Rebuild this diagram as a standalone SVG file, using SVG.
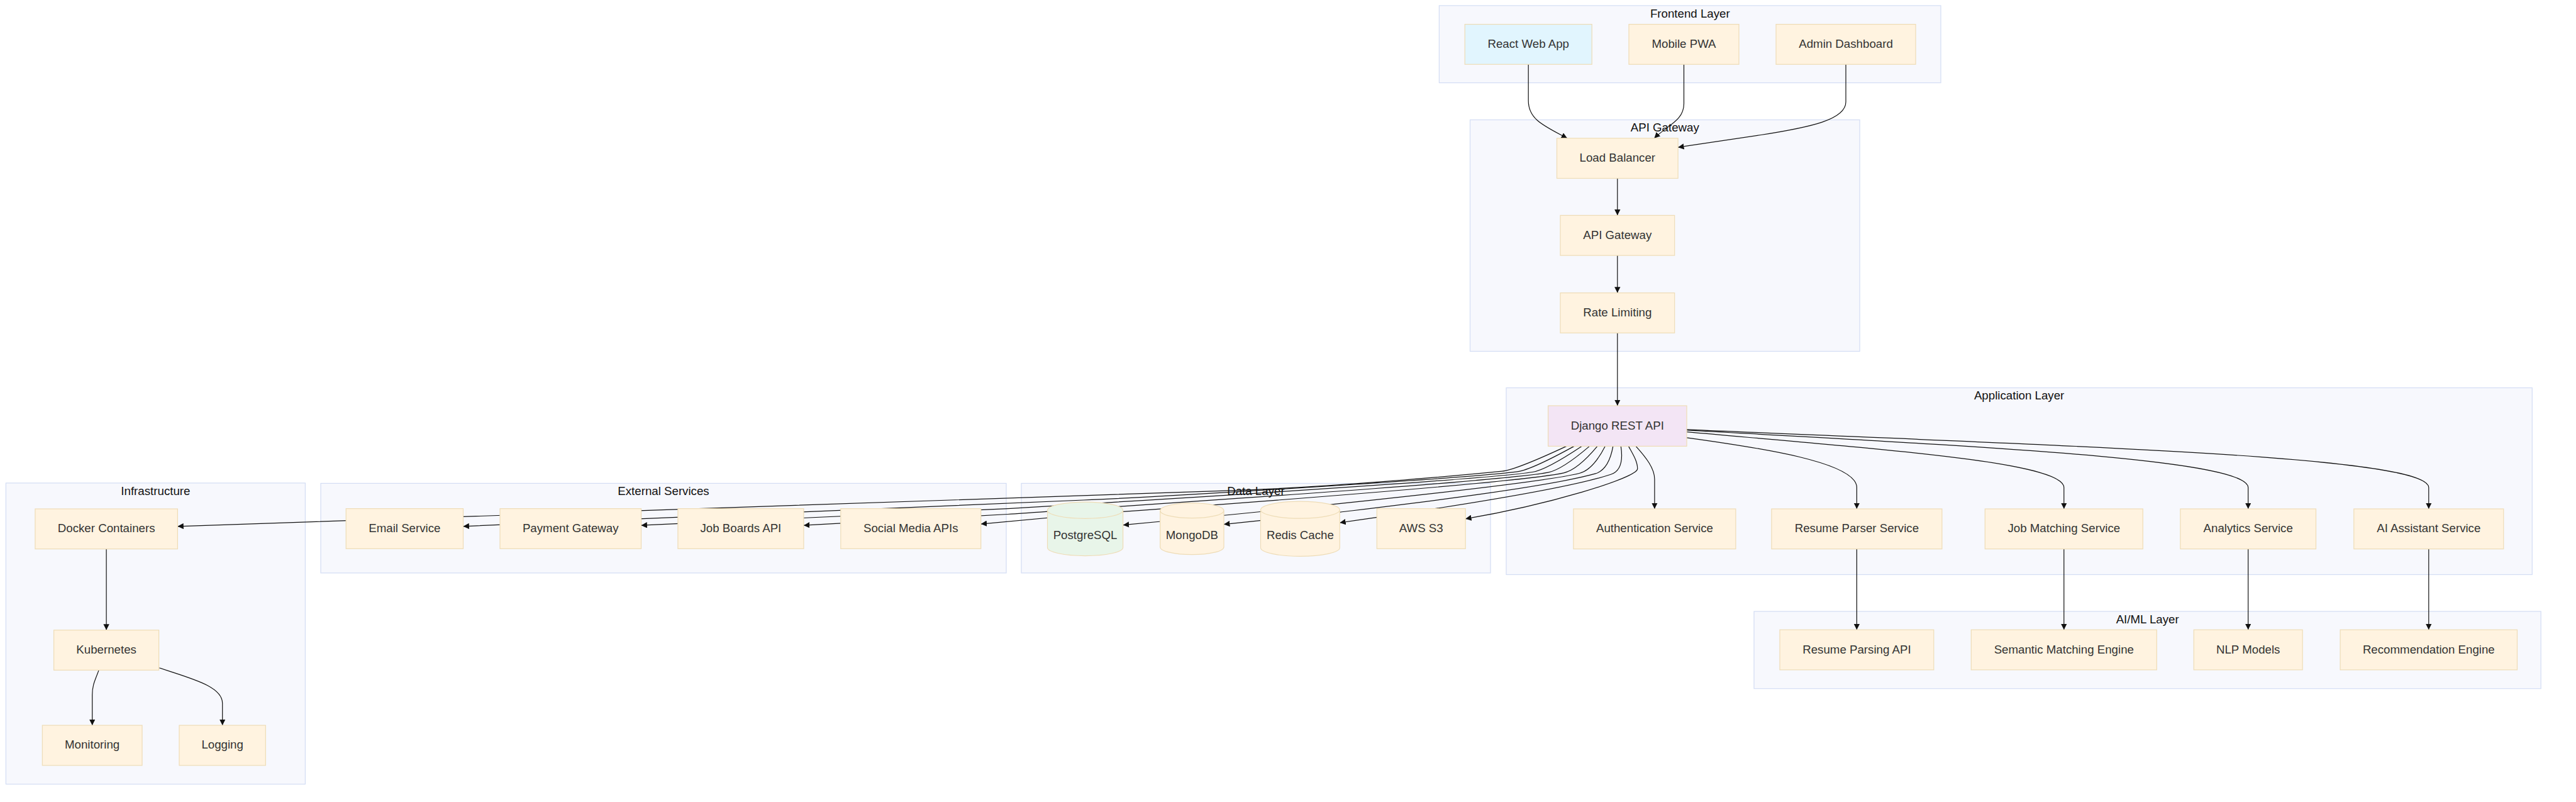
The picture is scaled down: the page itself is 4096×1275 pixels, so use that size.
<svg xmlns="http://www.w3.org/2000/svg" width="4096" height="1275" viewBox="0 0 4096 1275">
<defs>
<marker id="arrow" viewBox="0 0 10 10" refX="10" refY="5" markerWidth="9.4" markerHeight="9.4" markerUnits="userSpaceOnUse" orient="auto"><path d="M0,0 L10,5 L0,10 z" fill="#111"/></marker>
<style>
.cluster rect{fill:#f7f8fd;stroke:#d3ddf4;stroke-width:1.2}
.ctitle{font-family:"Liberation Sans",Arial,sans-serif;font-size:18.7px;fill:#111;text-anchor:middle}
.node rect,.node path{fill:#fff3e0;stroke:#eedcb6;stroke-width:1.2}
.node text{font-family:"Liberation Sans",Arial,sans-serif;font-size:18.7px;fill:#333;text-anchor:middle}
.node.blue rect{fill:#e1f5fe}
.node.purple rect{fill:#f3e5f5}
.node.green path{fill:#e8f5e9}
.edges path{fill:none;stroke:#111;stroke-width:1.2;marker-end:url(#arrow)}
</style>
</defs>
<rect x="0" y="0" width="4096" height="1275" fill="#ffffff"/>

<g id="clusters">
  <g id="cluster-frontend" class="cluster"><rect x="2288.4" y="8.9" width="797.6" height="122.7"/><text class="ctitle" x="2687.3" y="27.7">Frontend Layer</text></g>
  <g id="cluster-gateway" class="cluster"><rect x="2337.5" y="190.5" width="619.6" height="368"/><text class="ctitle" x="2647.3" y="209.2">API Gateway</text></g>
  <g id="cluster-app" class="cluster"><rect x="2395" y="616.5" width="1631.3" height="297"/><text class="ctitle" x="3210.6" y="635.3">Application Layer</text></g>
  <g id="cluster-aiml" class="cluster"><rect x="2789" y="972" width="1251.2" height="122.7"/><text class="ctitle" x="3414.7" y="990.8">AI/ML Layer</text></g>
  <g id="cluster-infra" class="cluster"><rect x="9.4" y="767.9" width="476" height="478.7"/><text class="ctitle" x="247.4" y="786.7">Infrastructure</text></g>
  <g id="cluster-external" class="cluster"><rect x="510" y="768.4" width="1090" height="142.5"/><text class="ctitle" x="1055" y="787.2">External Services</text></g>
  <g id="cluster-data" class="cluster"><rect x="1624" y="768.4" width="746" height="142.5"/><text class="ctitle" x="1996.9" y="787.2">Data Layer</text></g>
</g>

<g id="edges" class="edges">
  <path d="M2430.2,102.3 L2430.2,160 C2430.2,190 2455,200 2492,219.8"/>
  <path d="M2677.5,102.3 L2677.5,165 C2677.5,192 2650,200 2630.4,219.8"/>
  <path d="M2935,102.3 L2935,162 C2935,190 2880,202 2800,214.5 L2668.1,234.2"/>
  <path d="M2571.8,283.5 L2571.8,342.4"/>
  <path d="M2571.8,406.1 L2571.8,465.6"/>
  <path d="M2571.8,529.3 L2571.8,645"/>
  <path d="M2490.8,709.4 Q2410.3,747 2388.3,749.2 C2308.3,757.2 2102,774.9 1972,779.3 L282.4,836.8"/>
  <path d="M2503,709.4 Q2434.6,747 2412.6,749.9 C2332.6,760.3 1872.6,788.5 1722.6,795 L736.5,836.8"/>
  <path d="M2515,709.4 Q2458.6,747 2436.6,750.5 C2356.6,763.3 1802.5,796.6 1602.5,808.6 L1019.5,835.2"/>
  <path d="M2527.4,709.4 Q2483.4,747 2461.4,751.2 C2381.4,766.4 1782.5,804.5 1602.5,817.5 L1277.9,835.2"/>
  <path d="M2539.9,709.4 Q2508.4,747 2486.4,751.8 C2406.4,769.4 1872.6,807 1722.6,818 L1559.7,833.1"/>
  <path d="M2552.2,709.4 Q2533.1,747 2511.1,752.5 C2431.1,772.5 1935.8,820.7 1785.8,834.7"/>
  <path d="M2564.8,709.4 Q2558.1,747 2536.1,753.2 C2456.1,775.6 2220,803.3 2130,814.3 L1946,833.6"/>
  <path d="M2577.3,709.4 Q2583.2,747 2561.2,754.3 C2481.2,780.7 2250.3,814 2130.3,831"/>
  <path d="M2589.5,709.4 C2595,720 2604,733 2603.7,745.4 C2603,760 2460,802.8 2330.2,824.8"/>
  <path d="M2601.1,709.4 C2618,728 2630.9,745 2630.9,762 L2630.9,809"/>
  <path d="M2682,695.8 C2800,712 2952.4,735 2952.4,775 L2952.4,809"/>
  <path d="M2682,686.7 C3000,715 3281.8,735 3281.8,775 L3281.8,809"/>
  <path d="M2682,683.8 C3150,710 3574.7,730 3574.7,775 L3574.7,809"/>
  <path d="M2682,682.8 C3300,710 3861.8,725 3861.8,775 L3861.8,809"/>
  <path d="M2952.4,872.7 L2952.4,1001.2"/>
  <path d="M3281.8,872.7 L3281.8,1001.2"/>
  <path d="M3574.7,872.7 L3574.7,1001.2"/>
  <path d="M3861.8,872.7 L3861.8,1001.2"/>
  <path d="M169.1,872.7 L169.1,1001.7"/>
  <path d="M157.1,1065.4 C152,1080 146.7,1088 146.7,1105 L146.7,1153.1"/>
  <path d="M253.2,1061.7 C300,1078 353.7,1090 353.7,1118 L353.7,1153.1"/>
</g>

<g id="nodes">
  <g id="react" class="node blue"><rect x="2329.2" y="38.6" width="202" height="63.7"/><text x="2430.2" y="75.9">React Web App</text></g>
  <g id="mobile" class="node"><rect x="2590" y="38.6" width="175" height="63.7"/><text x="2677.5" y="75.9">Mobile PWA</text></g>
  <g id="admin" class="node"><rect x="2824" y="38.6" width="222" height="63.7"/><text x="2935" y="75.9">Admin Dashboard</text></g>

  <g id="lb" class="node"><rect x="2475.5" y="219.8" width="192.6" height="63.7"/><text x="2571.8" y="257.1">Load Balancer</text></g>
  <g id="apigw" class="node"><rect x="2481" y="342.4" width="181.7" height="63.7"/><text x="2571.8" y="379.7">API Gateway</text></g>
  <g id="rate" class="node"><rect x="2481" y="465.6" width="181.7" height="63.7"/><text x="2571.8" y="502.9">Rate Limiting</text></g>

  <g id="django" class="node purple"><rect x="2461.6" y="645" width="220.4" height="64.4"/><text x="2571.8" y="682.7">Django REST API</text></g>
  <g id="auth" class="node"><rect x="2501.9" y="809" width="258" height="63.7"/><text x="2630.9" y="846.3">Authentication Service</text></g>
  <g id="resume" class="node"><rect x="2816.9" y="809" width="271" height="63.7"/><text x="2952.4" y="846.3">Resume Parser Service</text></g>
  <g id="jobmatch" class="node"><rect x="3156.3" y="809" width="251" height="63.7"/><text x="3281.8" y="846.3">Job Matching Service</text></g>
  <g id="analytics" class="node"><rect x="3466.9" y="809" width="215.6" height="63.7"/><text x="3574.7" y="846.3">Analytics Service</text></g>
  <g id="aiassist" class="node"><rect x="3742.8" y="809" width="238" height="63.7"/><text x="3861.8" y="846.3">AI Assistant Service</text></g>

  <g id="resumeapi" class="node"><rect x="2830" y="1001.2" width="244.8" height="63.7"/><text x="2952.4" y="1038.5">Resume Parsing API</text></g>
  <g id="semantic" class="node"><rect x="3134.3" y="1001.2" width="295" height="63.7"/><text x="3281.8" y="1038.5">Semantic Matching Engine</text></g>
  <g id="nlp" class="node"><rect x="3488.3" y="1001.2" width="172.8" height="63.7"/><text x="3574.7" y="1038.5">NLP Models</text></g>
  <g id="recommend" class="node"><rect x="3721.1" y="1001.2" width="281.4" height="63.7"/><text x="3861.8" y="1038.5">Recommendation Engine</text></g>

  <g id="postgres" class="node green"><path d="M1665.5,811.2 a60.05,13.1 0 0 0 120.1,0 a60.05,13.1 0 0 0 -120.1,0 l0,59.3 a60.05,13.1 0 0 0 120.1,0 l0,-59.3"/><text x="1725.55" y="857">PostgreSQL</text></g>
  <g id="mongo" class="node"><path d="M1844.7,811.7 a50.65,12 0 0 0 101.3,0 a50.65,12 0 0 0 -101.3,0 l0,58 a50.65,12 0 0 0 101.3,0 l0,-58"/><text x="1895.35" y="857">MongoDB</text></g>
  <g id="redis" class="node"><path d="M2004.5,810.6 a62.9,13.5 0 0 0 125.8,0 a62.9,13.5 0 0 0 -125.8,0 l0,60.2 a62.9,13.5 0 0 0 125.8,0 l0,-60.2"/><text x="2067.4" y="857">Redis Cache</text></g>
  <g id="s3" class="node"><rect x="2189.3" y="808.6" width="140.9" height="63.7"/><text x="2259.75" y="845.9">AWS S3</text></g>

  <g id="email" class="node"><rect x="550.2" y="808.6" width="186.3" height="63.7"/><text x="643.35" y="845.9">Email Service</text></g>
  <g id="payment" class="node"><rect x="795" y="808.6" width="224.5" height="63.7"/><text x="907.25" y="845.9">Payment Gateway</text></g>
  <g id="jobboards" class="node"><rect x="1077.9" y="808.6" width="200" height="63.7"/><text x="1177.9" y="845.9">Job Boards API</text></g>
  <g id="social" class="node"><rect x="1336.8" y="808.6" width="222.9" height="63.7"/><text x="1448.25" y="845.9">Social Media APIs</text></g>

  <g id="docker" class="node"><rect x="55.9" y="809" width="226.5" height="63.7"/><text x="169.15" y="846.3">Docker Containers</text></g>
  <g id="k8s" class="node"><rect x="85.6" y="1001.7" width="167" height="63.7"/><text x="169.1" y="1039">Kubernetes</text></g>
  <g id="monitoring" class="node"><rect x="67.3" y="1153.1" width="158.7" height="63.7"/><text x="146.65" y="1190.4">Monitoring</text></g>
  <g id="logging" class="node"><rect x="285" y="1153.1" width="137.3" height="63.7"/><text x="353.65" y="1190.4">Logging</text></g>
</g>
</svg>
